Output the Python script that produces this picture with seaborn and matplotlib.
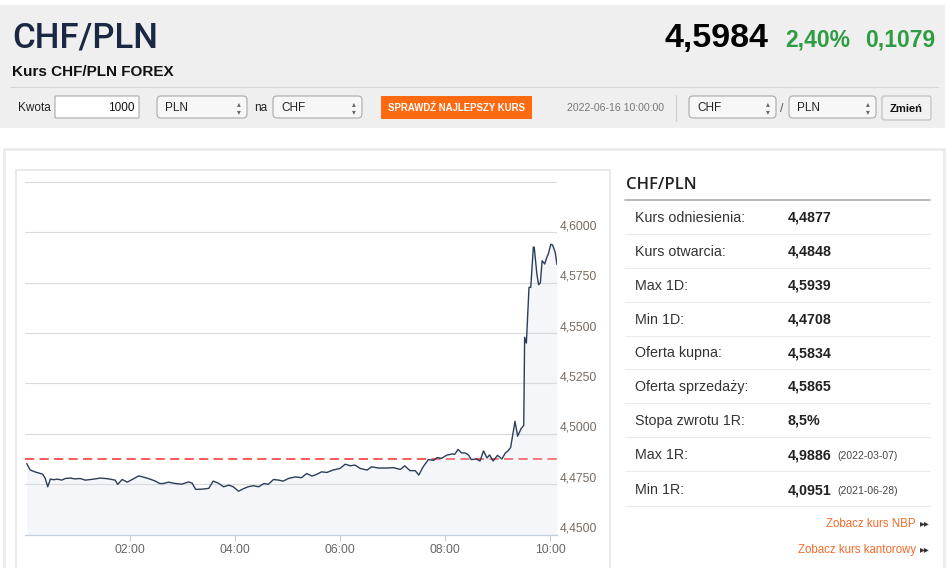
import matplotlib
matplotlib.use('Agg')
import matplotlib.pyplot as plt
import matplotlib.transforms as mtransforms
from matplotlib import font_manager
from matplotlib.patches import Rectangle, FancyBboxPatch
import seaborn as sns

# CHF/PLN intraday, 2022-06-16 (minutes after midnight)
minutes = [2, 6, 12, 20, 23, 26, 29, 33, 37, 42, 46, 52, 57, 63, 69, 75, 80, 86, 92, 97,
           103, 106, 111, 117, 122, 130, 137, 143, 149, 154, 158, 164, 172, 179, 187, 191,
           195, 202, 210, 215, 221, 227, 233, 238, 244, 250, 255, 261, 267, 273, 278, 284,
           290, 295, 301, 309, 316, 322, 328, 334, 339, 345, 352, 360, 366, 372, 377, 383,
           391, 396, 404, 413, 421, 429, 434, 440, 446, 450, 455, 461, 467, 471, 476, 482,
           488, 491, 495, 499, 503, 507, 510, 516, 520, 524, 528, 531, 535, 540, 545, 549,
           552, 555, 560, 563, 567, 570, 571, 573, 576, 578, 581, 582, 585, 587, 589, 591,
           594, 596, 598, 601, 603, 606, 608]
rates = [4.4852, 4.4820, 4.4810, 4.4800, 4.4780, 4.4737, 4.4775, 4.4772, 4.4775, 4.4770,
         4.4778, 4.4780, 4.4776, 4.4778, 4.4770, 4.4773, 4.4776, 4.4780, 4.4778, 4.4775,
         4.4770, 4.4749, 4.4773, 4.4760, 4.4772, 4.4791, 4.4783, 4.4775, 4.4765, 4.4753,
         4.4753, 4.4760, 4.4753, 4.4750, 4.4761, 4.4755, 4.4724, 4.4725, 4.4729, 4.4765,
         4.4755, 4.4737, 4.4745, 4.4737, 4.4715, 4.4728, 4.4737, 4.4742, 4.4737, 4.4753,
         4.4749, 4.4773, 4.4770, 4.4765, 4.4778, 4.4786, 4.4782, 4.4803, 4.4790, 4.4800,
         4.4811, 4.4808, 4.4820, 4.4828, 4.4849, 4.4841, 4.4845, 4.4828, 4.4820, 4.4836,
         4.4830, 4.4830, 4.4832, 4.4823, 4.4841, 4.4817, 4.4817, 4.4795, 4.4836, 4.4872,
         4.4868, 4.4882, 4.4878, 4.4894, 4.4900, 4.4898, 4.4922, 4.4905, 4.4905, 4.4894,
         4.4872, 4.4875, 4.4865, 4.4915, 4.4880, 4.4895, 4.4865, 4.4893, 4.4875, 4.4905,
         4.4915, 4.4932, 4.5062, 4.4988, 4.5026, 4.5042, 4.5479, 4.5450, 4.5727, 4.5727,
         4.5928, 4.5925, 4.5793, 4.5740, 4.5750, 4.5859, 4.5843, 4.5872, 4.5892, 4.5941,
         4.5937, 4.5900, 4.5840]
ref_rate = 4.4877

y_ticks = [4.45, 4.475, 4.5, 4.525, 4.55, 4.575, 4.6]
y_labels = ['4,4500', '4,4750', '4,5000', '4,5250', '4,5500', '4,5750', '4,6000']
x_ticks = [120, 240, 360, 480, 600]
x_labels = ['02:00', '04:00', '06:00', '08:00', '10:00']

pair = 'CHF/PLN'
last_rate = '4,5984'
change_pct = '2,40%'
change_abs = '0,1079'
quote_time = '2022-06-16 10:00:00'

stat_labels = ['Kurs odniesienia:', 'Kurs otwarcia:', 'Max 1D:', 'Min 1D:', 'Oferta kupna:',
               'Oferta sprzedaży:', 'Stopa zwrotu 1R:', 'Max 1R:', 'Min 1R:']
stat_values = ['4,4877', '4,4848', '4,5939', '4,4708', '4,5834', '4,5865', '8,5%',
               '4,9886', '4,0951']
stat_dates = ['', '', '', '', '', '', '', '(2022-03-07)', '(2021-06-28)']
links = ['Zobacz kurs NBP', 'Zobacz kurs kantorowy']

sns.set_theme(style='white')
plt.rcParams['font.family'] = ['Liberation Sans', 'DejaVu Sans']


def have_font(name):
    try:
        font_manager.findfont(name, fallback_to_default=False)
        return True
    except Exception:
        return False


narrow = 'Liberation Sans Narrow' if have_font('Liberation Sans Narrow') else 'Liberation Sans'

fig = plt.figure(figsize=(9.48, 5.68), dpi=100)
fig.patch.set_facecolor('white')

# page layer in pixel coordinates
bg = fig.add_axes([0, 0, 1, 1])
bg.set_xlim(0, 948)
bg.set_ylim(568, 0)
bg.axis('off')


def box(x, y, w, h, fc, ec, r=3, lw=0.8):
    bg.add_patch(FancyBboxPatch((x, y), w, h, boxstyle=f'round,pad=0,rounding_size={r}',
                                fc=fc, ec=ec, lw=lw))


def select(x, w, label):
    box(x, 96, w, 22, '#f7f7f7', '#a9a9a9', r=4)
    bg.text(x + 8, 111, label, fontsize=8.5, color='#222222')
    # up/down arrows of the drop-down, one text
    bg.text(x + w - 8, 107.5, '▴\n▾', fontsize=5.5, color='#666666', ha='center',
            va='center', linespacing=0.75, family='DejaVu Sans')


# header
bg.add_patch(Rectangle((0, 5), 945, 123, fc='#efefef', lw=0))
bg.text(12, 47, pair, fontsize=25, fontweight='medium', color='#1a2844',
        family=['Roboto', 'Liberation Sans'])
bg.text(12, 76, 'Kurs CHF/PLN FOREX', fontsize=11, fontweight='bold', color='#111111')
bg.text(935, 47, change_abs, fontsize=16.5, fontweight='bold', color='#2e9c42', ha='right')
bg.text(850, 47, change_pct, fontsize=16.5, fontweight='bold', color='#2e9c42', ha='right')
bg.text(768, 47, last_rate, fontsize=24.5, fontweight='bold', color='#000000', ha='right')
bg.plot([10, 938], [87, 87], color='#d6d6d6', lw=0.8)

# form row
bg.text(18, 111, 'Kwota', fontsize=8.5, color='#222222')
box(55, 96, 84, 22, 'white', '#a9a9a9', r=1)
bg.text(135, 111, '1000', fontsize=8.5, color='#111111', ha='right')
select(157, 90, 'PLN')
bg.text(254, 111, 'na', fontsize=8.5, color='#222222')
select(273, 89, 'CHF')
bg.add_patch(Rectangle((381, 96), 151, 23, fc='#fe6a10', lw=0))
bg.text(456.5, 111, 'SPRAWDŹ NAJLEPSZY KURS', fontsize=7.5 if narrow != 'Liberation Sans' else 6.9,
        fontweight='bold', color='white', ha='center', family=narrow)
bg.text(567, 111, quote_time, fontsize=7.6, color='#777777')
bg.plot([676, 676], [95, 121], color='#cccccc', lw=0.8)
select(689, 87, 'CHF')
bg.text(782, 112, '/', fontsize=9, color='#555555', ha='center')
select(789, 87, 'PLN')
box(882, 96, 49, 24, '#f2f2f2', '#bdbdbd', r=2)
bg.text(906.5, 111.5, 'Zmień', fontsize=8, fontweight='bold', color='#111111', ha='center')

# content panels
bg.add_patch(Rectangle((4, 149), 940, 430, fc='white', ec='#ebebeb', lw=2))
bg.add_patch(Rectangle((16, 170), 594, 410, fc='white', ec='#e6e6e6', lw=1.2))

# statistics table
bg.text(626, 189, pair, fontsize=12, fontweight='semibold', color='#222222',
        family=['Open Sans', 'Liberation Sans'])
bg.plot([625, 930], [199.5, 199.5], color='#b3b3b3', lw=1.3)
row_y = [217, 250.5, 284.5, 318.5, 352, 385.5, 419.5, 454, 489.5]
sep_y = [233.5, 267.5, 301.5, 335.5, 369, 403, 437, 471, 506]
for y in sep_y:
    bg.plot([625, 930], [y, y], color='#ececec', lw=0.8)
for y, lab, val, dt in zip(row_y, stat_labels, stat_values, stat_dates):
    bg.text(635, y + 5, lab, fontsize=10.3, color='#333333')
    bg.text(788, y + 5, val, fontsize=10.3, fontweight='bold', color='#222222')
    if dt:
        bg.text(837, y + 5, dt, fontsize=7.5, color='#444444')
for y, txt in zip([527, 553], links):
    bg.text(916, y, txt, fontsize=8.3, color='#f46b2a', ha='right')
    bg.text(920, y - 4, '▸▸', fontsize=7, color='#333333', va='center',
            family='DejaVu Sans')

# chart
ax = fig.add_axes([25 / 948, (568 - 534.5) / 568, 532 / 948, (534.5 - 181) / 568])
ax.set_facecolor('none')
ax.axhline(ref_rate, color='#ff2b2b', lw=1.1, ls=(0, (6, 3.5)), zorder=1)
ax.fill_between(minutes, rates, 4.40, color='#d5dce8', alpha=0.25, lw=0, zorder=2)
sns.lineplot(x=minutes, y=rates, ax=ax, color='#2c3d5a', lw=1.0, zorder=3)
ax.set_xlim(0, 608)
ax.set_ylim(4.45, 4.6255)
ax.set_yticks(y_ticks + [4.625])
ax.tick_params(axis='y', length=0, labelleft=False, labelright=False)
ax.grid(axis='y', color='#dadada', lw=0.8)
ax.set_axisbelow(True)
ax.set_xticks(x_ticks)
ax.set_xticklabels(x_labels)
ax.tick_params(axis='x', length=4, width=0.8, color='#c3cedc', direction='out',
               pad=3, labelsize=8.7, labelcolor='#666666', bottom=True)
for side in ['top', 'right', 'left']:
    ax.spines[side].set_visible(False)
ax.spines['bottom'].set_color('#c3cedc')
ax.spines['bottom'].set_linewidth(0.9)
ax.set_xlabel('')
ax.set_ylabel('')
trans = mtransforms.blended_transform_factory(ax.transAxes, ax.transData)
for v, lab in zip(y_ticks, y_labels):
    ax.text(1.0056, v, lab, transform=trans, fontsize=8.7, color='#776b60', va='bottom')

fig.savefig('out.png', dpi=100)
